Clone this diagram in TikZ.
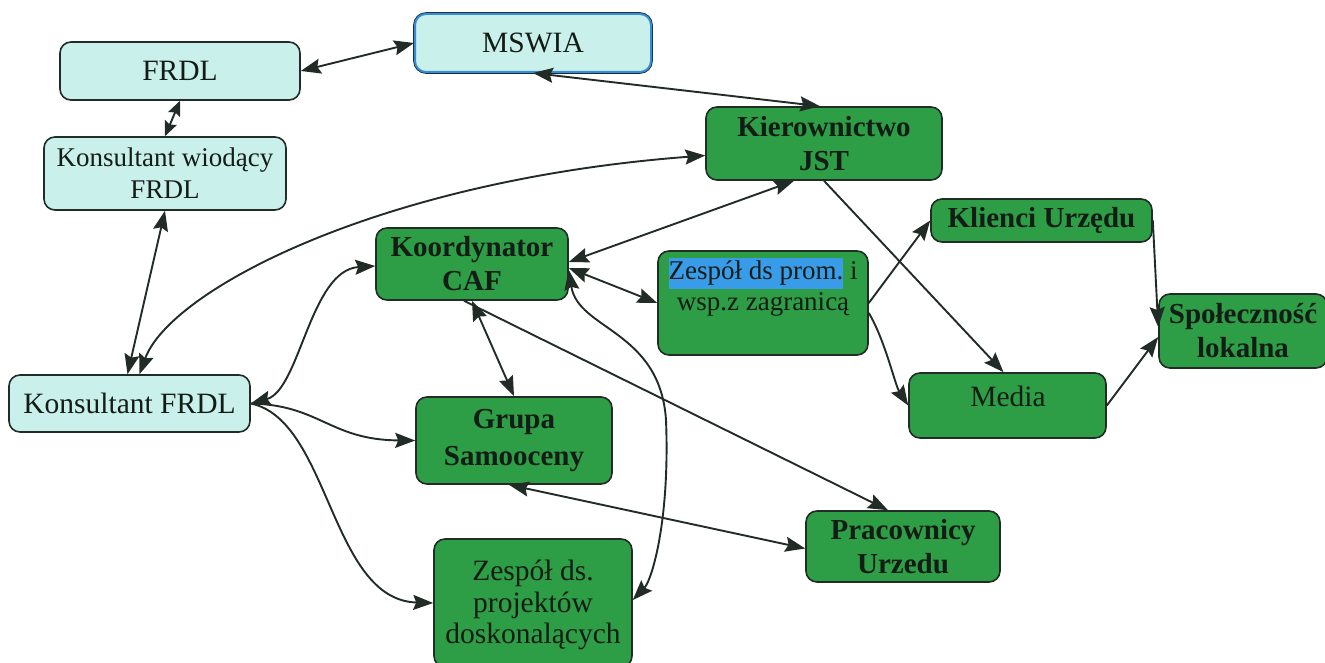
\documentclass[tikz,border=0pt]{standalone}
\usepackage{fontspec}
\setmainfont{Liberation Serif}
\usetikzlibrary{arrows.meta,calc}
\definecolor{cyanfill}{RGB}{201,240,234}
\definecolor{greenfill}{RGB}{45,157,70}
\definecolor{edgecol}{RGB}{34,44,38}
\definecolor{textcol}{RGB}{20,28,22}
\definecolor{mswiablue}{RGB}{52,140,220}
\definecolor{hlblue}{RGB}{56,156,232}
\setlength{\fboxsep}{0pt}
\begin{document}
\begin{tikzpicture}[x=1pt,y=-1pt,
  box/.style={draw=edgecol, line width=1.6pt, rounded corners=11pt, inner sep=0pt, text=textcol, align=center, font=\fontsize{29.5}{34}\selectfont},
  lightbox/.style={box, fill=cyanfill},
  greenbox/.style={box, fill=greenfill},
  boldtext/.style={font=\fontsize{29}{34}\selectfont\bfseries},
  lbl/.style={inner sep=0pt, text=textcol, align=center, font=\fontsize{29.5}{31.5}\selectfont},
  conn/.style={draw=edgecol, line width=1.9pt},
  tip/.tip={Stealth[length=20pt,width=15pt,inset=3pt]},
  smalltip/.tip={Stealth[length=15pt,width=13pt,inset=2.5pt]},
  both/.style={conn, tip-tip},
  bothshort/.style={conn, smalltip-smalltip},
  one/.style={conn, -tip},
]
\useasboundingbox (0,0) rectangle (1325,663);
\fill[white] (0,0) rectangle (1325,663);

% nodes
\node[lightbox, minimum width=240pt, minimum height=58pt] (frdl) at (180,71) {FRDL};
\node[lightbox, preaction={draw=edgecol, line width=3.6pt}, draw=mswiablue, line width=2pt, minimum width=236pt, minimum height=58pt] (mswia) at (533,43) {MSWIA};
\node[lightbox, minimum width=242pt, minimum height=73pt, font=\fontsize{27}{32}\selectfont] (kw) at (165,173.5) {Konsultant wiodący\\FRDL};
\node[lightbox, minimum width=241pt, minimum height=57pt] (kf) at (129.5,403.5) {Konsultant FRDL};
\node[greenbox, minimum width=236pt, minimum height=73pt, boldtext] (kjst) at (824,143.5) {Kierownictwo\\JST};
\node[greenbox, minimum width=192pt, minimum height=72pt, boldtext] (caf) at (472,264) {Koordynator\\CAF};
\node[greenbox, minimum width=210pt, minimum height=104pt] (prom) at (763,303) {};
\node[lbl, font=\fontsize{27}{31}\selectfont] (promt) at (763,287) {\colorbox{hlblue}{\strut Zespół ds prom.} i\\wsp.z zagranicą};
\node[greenbox, minimum width=221pt, minimum height=43pt, boldtext] (klienci) at (1041.5,220.5) {Klienci Urzędu};
\node[greenbox, minimum width=168pt, minimum height=74pt, boldtext] (spol) at (1243,331) {Społeczność\\lokalna};
\node[greenbox, minimum width=197pt, minimum height=65pt] (media) at (1007.5,405.5) {};
\node[lbl] (mediat) at (1008,396) {Media};
\node[greenbox, minimum width=196pt, minimum height=87pt, font=\fontsize{29}{37}\selectfont\bfseries] (grupa) at (514,440.5) {Grupa\\Samooceny};
\node[greenbox, minimum width=194pt, minimum height=71pt, boldtext] (prac) at (903,546.5) {Pracownicy\\Urzedu};
\node[greenbox, minimum width=198pt, minimum height=128pt] (zpd) at (533,603) {};
\node[lbl] (zpdt) at (533,605) {Zespół ds.\\projektów\\doskonalących};

% connectors
\draw[both] (frdl.east) -- (mswia.west);
\draw[bothshort] (frdl.south) -- (kw.north);
\draw[both] (kw.south) -- ([xshift=-2pt]kf.north);
\draw[both] ([xshift=10pt]kf.north) .. controls (170,290) and (380,180) .. ([yshift=-12pt]kjst.west);
\draw[both] (mswia.south) -- ([xshift=-4pt]kjst.north);
\draw[both] ([xshift=-30pt]kjst.south) -- ([yshift=2pt]caf.east);
\draw[one] (kjst.south) -- ([xshift=-4pt]media.north);
\draw[both] ([yshift=-4pt]caf.east) -- (prom.west);
\draw[one] (prom.east) -- (klienci.west);
\draw[one] ([yshift=-10pt]prom.east) .. controls (885,340) and (895,385) .. (media.west);
\draw[one] (klienci.east) -- ([yshift=4pt]spol.west);
\draw[one] (media.east) -- ([yshift=-6pt]spol.west);
\draw[both] (kf.east) .. controls (300,390) and (310,270) .. ([yshift=-2pt]caf.west);
\draw[one] (kf.east) .. controls (320,405) and (330,440) .. (grupa.west);
\draw[one] (kf.east) .. controls (330,420) and (330,600) .. (zpd.west);
\draw[both] (caf.south) -- (grupa.north);
\draw[one] ([xshift=-8pt]caf.south) -- ([xshift=-15pt]prac.north);
\draw[both] ([xshift=-5pt]grupa.south) -- ([yshift=-2pt]prac.west);
\draw[both] ([yshift=-6pt]caf.east) .. controls (578,330) and (660,330) .. (666,420) .. controls (670,520) and (652,580) .. ([yshift=3pt]zpd.east);
\end{tikzpicture}
\end{document}
